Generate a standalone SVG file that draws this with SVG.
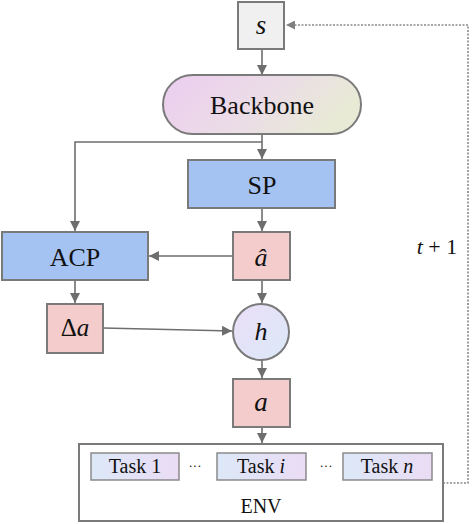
<svg xmlns="http://www.w3.org/2000/svg" width="472" height="524" viewBox="0 0 472 524">
<defs>
<linearGradient id="gBack" x1="0" y1="0" x2="1" y2="0.3">
<stop offset="0" stop-color="#eccdf0"/>
<stop offset="0.6" stop-color="#ebdde6"/>
<stop offset="1" stop-color="#e8ead6"/>
</linearGradient>
<linearGradient id="gCirc" x1="0" y1="0" x2="1" y2="1">
<stop offset="0" stop-color="#ebdef7"/>
<stop offset="1" stop-color="#dbe9f8"/>
</linearGradient>
<linearGradient id="gTask" x1="0" y1="0" x2="1" y2="0">
<stop offset="0" stop-color="#dce8f8"/>
<stop offset="1" stop-color="#eadcf4"/>
</linearGradient>
<marker id="arr" viewBox="0 0 10 10" refX="10" refY="5" markerWidth="10" markerHeight="10" markerUnits="userSpaceOnUse" orient="auto">
<path d="M0,0 L10,5 L0,10 z" fill="#6e6e6e"/>
</marker>
<marker id="arrD" viewBox="0 0 10 10" refX="10" refY="5" markerWidth="9" markerHeight="9" markerUnits="userSpaceOnUse" orient="auto">
<path d="M0,0 L10,5 L0,10 z" fill="#808080"/>
</marker>
</defs>
<style>
.box{stroke:#7a7a7a;stroke-width:2}
.blue{fill:#a4c3f2}
.pink{fill:#f4cccc}
.con{fill:none;stroke:#6e6e6e;stroke-width:1.6}
.dot{fill:none;stroke:#8a8a8a;stroke-width:1.6;stroke-dasharray:2 1.5}
</style>
<g id="connectors">
<line class="con" x1="262" y1="49" x2="262" y2="75" marker-end="url(#arr)"/>
<line class="con" x1="262" y1="134" x2="262" y2="159" marker-end="url(#arr)"/>
<polyline class="con" points="262,142 75,142 75,231" marker-end="url(#arr)"/>
<line class="con" x1="262" y1="208" x2="262" y2="231" marker-end="url(#arr)"/>
<line class="con" x1="233" y1="256" x2="149" y2="256" marker-end="url(#arr)"/>
<line class="con" x1="75" y1="280" x2="75" y2="303" marker-end="url(#arr)"/>
<line class="con" x1="103" y1="328" x2="232" y2="331" marker-end="url(#arr)"/>
<line class="con" x1="262" y1="280" x2="262" y2="303" marker-end="url(#arr)"/>
<line class="con" x1="262" y1="360" x2="262" y2="378" marker-end="url(#arr)"/>
<line class="con" x1="262" y1="427" x2="262" y2="443" marker-end="url(#arr)"/>
<polyline class="dot" points="443,483 468,483 468,25 286,25" marker-end="url(#arrD)"/>
</g>
<g font-family="Liberation Serif, serif" fill="#111" text-anchor="middle">
<g id="s">
<rect class="box" x="238" y="2" width="46" height="47" fill="#f0f0f0"/>
<text x="261" y="34" font-size="27" font-style="italic">s</text>
</g>
<g id="backbone">
<rect class="box" x="163" y="75" width="198" height="59" rx="29.5" fill="url(#gBack)"/>
<text x="262" y="114" font-size="26">Backbone</text>
</g>
<g id="sp">
<rect class="box blue" x="188" y="160" width="147" height="48"/>
<text x="262" y="194" font-size="26">SP</text>
</g>
<g id="acp">
<rect class="box blue" x="2" y="232" width="146" height="48"/>
<text x="75" y="266" font-size="26">ACP</text>
</g>
<g id="ahat">
<rect class="box pink" x="233" y="232" width="57" height="48"/>
<text x="261" y="266" font-size="26" font-style="italic">â</text>
</g>
<g id="delta-a">
<rect class="box pink" x="47" y="304" width="56" height="49"/>
<text x="75" y="336" font-size="25">Δ<tspan font-style="italic">a</tspan></text>
</g>
<g id="h">
<circle class="box" cx="261" cy="332" r="28" fill="url(#gCirc)"/>
<text x="261" y="340" font-size="26" font-style="italic">h</text>
</g>
<g id="a">
<rect class="box pink" x="233" y="379" width="57" height="48"/>
<text x="261" y="411" font-size="27" font-style="italic">a</text>
</g>
<g id="env">
<rect class="box" x="79" y="444" width="364" height="77" fill="#ffffff"/>
<text x="261" y="513" font-size="20">ENV</text>
</g>
<g id="task1">
<rect x="91" y="453" width="88" height="27" fill="url(#gTask)" stroke="#8a8a8a" stroke-width="1.5"/>
<text x="135" y="473" font-size="20">Task 1</text>
</g>
<text x="195" y="470" font-size="13">···</text>
<g id="taski">
<rect x="217" y="453" width="89" height="27" fill="url(#gTask)" stroke="#8a8a8a" stroke-width="1.5"/>
<text x="261" y="473" font-size="20">Task <tspan font-style="italic">i</tspan></text>
</g>
<text x="326" y="470" font-size="13">···</text>
<g id="taskn">
<rect x="343" y="453" width="89" height="27" fill="url(#gTask)" stroke="#8a8a8a" stroke-width="1.5"/>
<text x="387" y="473" font-size="20">Task <tspan font-style="italic">n</tspan></text>
</g>
<text x="437" y="254" font-size="22"><tspan font-style="italic">t</tspan> + 1</text>
</g>
</svg>
